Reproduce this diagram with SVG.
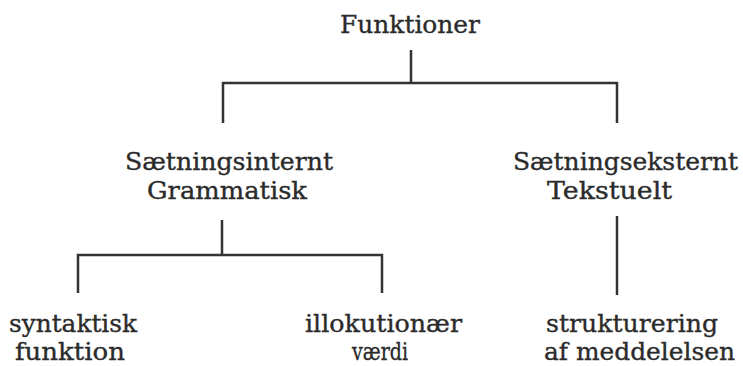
<svg xmlns="http://www.w3.org/2000/svg" width="743" height="366" viewBox="0 0 743 366">
<style>
text{font-family:"DejaVu Serif","Liberation Serif",serif;font-size:24px;fill:#2b2b2b;stroke:#2b2b2b;stroke-width:0.35}
.c{fill:none;stroke:#333;stroke-width:2.5;stroke-linecap:butt;stroke-linejoin:miter}
</style>
<rect width="743" height="366" fill="#fff"/>
<g id="connectors">
<path class="c" d="M411 50V83M223 123V83H617V123"/>
<path class="c" d="M222 220V255M78 293V255H382V293"/>
<path class="c" d="M617 216V295"/>
</g>
<g id="funktioner"><text x="340" y="33" textLength="140" lengthAdjust="spacingAndGlyphs">Funktioner</text></g>
<g id="saetningsinternt">
<text x="125" y="170" textLength="208" lengthAdjust="spacingAndGlyphs">Sætningsinternt</text>
<text x="147" y="199" textLength="160" lengthAdjust="spacingAndGlyphs">Grammatisk</text>
</g>
<g id="saetningseksternt">
<text x="513" y="170" textLength="225" lengthAdjust="spacingAndGlyphs">Sætningseksternt</text>
<text x="547" y="199" textLength="125" lengthAdjust="spacingAndGlyphs">Tekstuelt</text>
</g>
<g id="syntaktisk">
<text x="9" y="332" textLength="128" lengthAdjust="spacingAndGlyphs">syntaktisk</text>
<text x="15" y="360" textLength="110" lengthAdjust="spacingAndGlyphs">funktion</text>
</g>
<g id="illokutionaer">
<text x="305" y="332" textLength="157" lengthAdjust="spacingAndGlyphs">illokutionær</text>
<text x="352" y="360" textLength="56" lengthAdjust="spacingAndGlyphs">værdi</text>
</g>
<g id="strukturering">
<text x="546" y="332" textLength="172" lengthAdjust="spacingAndGlyphs">strukturering</text>
<text x="544" y="360" textLength="191" lengthAdjust="spacingAndGlyphs">af meddelelsen</text>
</g>
</svg>
